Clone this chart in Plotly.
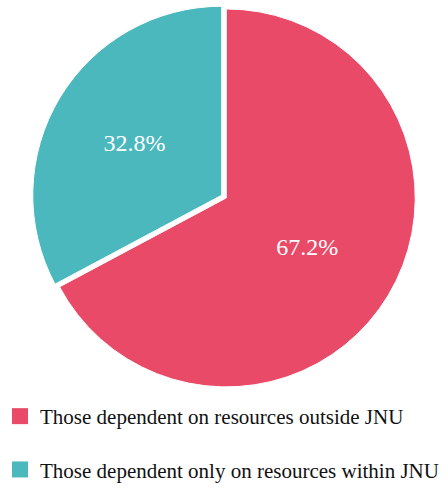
import plotly.graph_objects as go

labels = ["Those dependent on resources outside JNU",
          "Those dependent only on resources within JNU"]
values = [67.2, 32.8]
colors = ["#E84A67", "#4AB8BD"]

SERIF = "Liberation Serif, Times New Roman, serif"
W, H = 448, 490
fig = go.Figure()

fig.add_trace(go.Pie(
    labels=labels, values=values,
    marker=dict(colors=colors, line=dict(color="white", width=1)),
    sort=False, direction="clockwise", rotation=0,
    pull=[0.014, 0.014],
    texttemplate="%{percent:.1%}",
    textposition="inside",
    insidetextorientation="horizontal",
    textfont=dict(family=SERIF, size=24, color="white"),
    showlegend=False,
    domain=dict(x=[30 / W, 418 / W], y=[1 - 393 / H, 1 - 5 / H]),
    hoverinfo="label+percent",
))

# legend entries (one per slice), grouped so the gap between them can be set
for i, (lab, col) in enumerate(zip(labels, colors)):
    fig.add_trace(go.Scatter(
        x=[None], y=[None], mode="markers", name=lab,
        marker=dict(symbol="square", size=16, color=col),
        legendgroup=f"g{i}", showlegend=True, hoverinfo="skip",
    ))

fig.update_layout(
    width=W, height=H,
    margin=dict(l=0, r=0, t=0, b=0),
    paper_bgcolor="white", plot_bgcolor="white",
    font=dict(family=SERIF),
    xaxis=dict(visible=False), yaxis=dict(visible=False),
    showlegend=True,
    legend=dict(
        x=0.0, xanchor="left", y=1 - 401 / H, yanchor="top",
        orientation="v", traceorder="grouped", tracegroupgap=23,
        font=dict(family=SERIF, size=21, color="#111111"),
        bgcolor="rgba(0,0,0,0)", itemclick=False, itemdoubleclick=False,
    ),
)

fig.write_html("out.html")
